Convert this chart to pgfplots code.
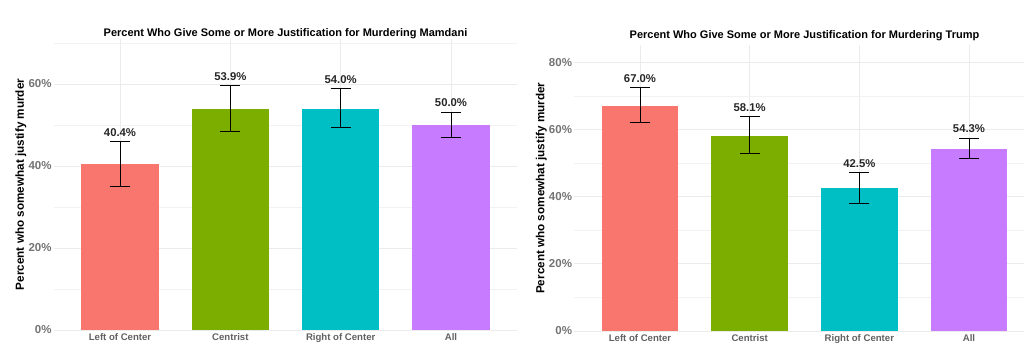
\documentclass[border=0pt]{standalone}
\usepackage{pgfplots}
\pgfplotsset{compat=1.18}
\usepackage{fontspec}
\setmainfont{Liberation Sans}
\definecolor{cA}{HTML}{F8766D}
\definecolor{cB}{HTML}{7CAE00}
\definecolor{cC}{HTML}{00BFC4}
\definecolor{cD}{HTML}{C77CFF}
\pgfplotsset{
  panel/.style={
    scale only axis,
    clip=false,
    axis line style={draw=none},
    major tick length=0pt, minor tick length=0pt,
    xmin=0.4, xmax=4.6, ymin=0,
    xtick={1,2,3,4},
    xticklabels={Left of Center,Centrist,Right of Center,All},
    grid=both,
    major grid style={black!8, line width=0.6pt},
    minor grid style={black!5, line width=0.4pt},
    xticklabel style={font=\bfseries\fontsize{9.6}{11}\selectfont, text=black!62, anchor=north, inner sep=0pt, yshift=-3pt},
    yticklabel style={font=\bfseries\fontsize{11.5}{13}\selectfont, text=black!55, anchor=east, inner sep=0pt, xshift=-2pt},
    ylabel={Percent who somewhat justify murder},
    ylabel style={font=\bfseries\fontsize{11.7}{13}\selectfont, inner sep=2pt},
    title style={font=\bfseries\fontsize{11}{13}\selectfont, at={(0.5,1)}, anchor=base, inner sep=0pt},
  },
  bar/.style={ybar, bar width=0.7, bar shift=0pt, draw=none, fill=#1,
    error bars/.cd, y dir=both, y explicit,
    error bar style={black, line width=1pt},
    error mark options={black, rotate=90, line width=1pt, mark size=10pt}},
  vals/.style={draw=none, mark=none, point meta=explicit symbolic,
    nodes near coords={\pgfplotspointmeta\%},
    nodes near coords style={anchor=south, inner sep=0pt, yshift=5pt, text=black!85, font=\bfseries\fontsize{11.3}{12}\selectfont}},
}
\begin{document}
\begin{tikzpicture}
\useasboundingbox (0,0) rectangle (1024pt,363pt);
% Left panel
\begin{axis}[panel, at={(53.8pt,33pt)}, anchor=south west,
  width=463.4pt, height=291.1pt, ymax=71,
  ytick={0,20,40,60}, yticklabels={0\%,20\%,40\%,60\%},
  minor ytick={10,30,50,70},
  title={Percent Who Give Some or More Justification for Murdering Mamdani},
  title style={yshift=-3.7pt}]
\addplot[bar=cA] coordinates {(1,40.4) += (0,5.5) -= (0,5.5)};
\addplot[bar=cB] coordinates {(2,53.9) += (0,5.7) -= (0,5.6)};
\addplot[bar=cC] coordinates {(3,54.0) += (0,4.9) -= (0,4.6)};
\addplot[bar=cD] coordinates {(4,50.0) += (0,3.1) -= (0,3.0)};
\addplot[vals] coordinates {(1,45.9) [40.4] (2,59.6) [53.9] (3,58.9) [54.0] (4,53.1) [50.0]};
\end{axis}
% Right panel
\begin{axis}[panel, at={(574.2pt,32pt)}, anchor=south west,
  width=460.6pt, height=285.6pt, ymax=85,
  ytick={0,20,40,60,80}, yticklabels={0\%,20\%,40\%,60\%,80\%},
  minor ytick={10,30,50,70},
  title={Percent Who Give Some or More Justification for Murdering Trump},
  title style={yshift=0.8pt}]
\addplot[bar=cA] coordinates {(1,67.0) += (0,5.4) -= (0,5.0)};
\addplot[bar=cB] coordinates {(2,58.1) += (0,5.6) -= (0,5.4)};
\addplot[bar=cC] coordinates {(3,42.5) += (0,4.7) -= (0,4.7)};
\addplot[bar=cD] coordinates {(4,54.3) += (0,3.1) -= (0,2.9)};
\addplot[vals] coordinates {(1,72.4) [67.0] (2,63.7) [58.1] (3,47.2) [42.5] (4,57.4) [54.3]};
\end{axis}
\end{tikzpicture}
\end{document}
